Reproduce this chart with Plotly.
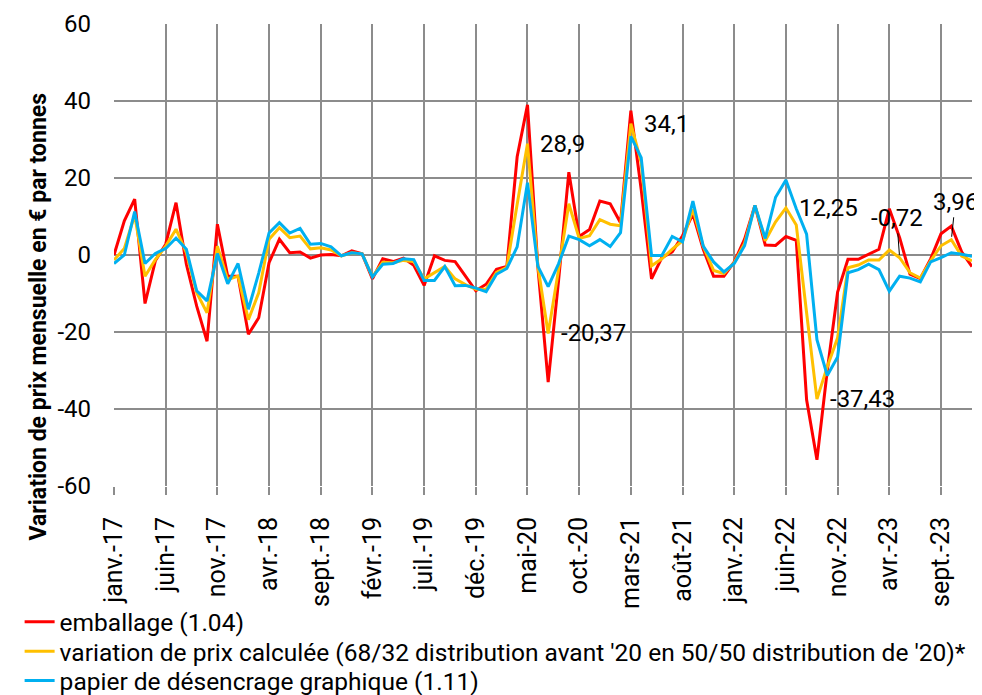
import plotly.graph_objects as go

# Mois (janv. 2017 -> déc. 2023)
mois_abr = ['janv.', 'févr.', 'mars', 'avr.', 'mai', 'juin',
            'juil.', 'août', 'sept.', 'oct.', 'nov.', 'déc.']
annees = ['17', '18', '19', '20', '21', '22', '23']
mois = [f'{m}-{a}' for a in annees for m in mois_abr]

# Variation de prix mensuelle (€/t)
emballage = [
    0.0, 8.9, 14.5, -12.6, -1.5, 2.8, 13.6, -2.4, -13.3, -22.4, 8.0, -5.5,
    -5.5, -20.6, -16.3, -2.0, 4.1, 0.6, 0.8, -0.8, 0.0, 0.1, -0.2, 1.1,
    0.3, -6.2, -1.0, -1.7, -0.8, -2.7, -7.9, -0.2, -1.4, -1.7, -5.5, -9.3,
    -7.6, -3.7, -3.0, 25.5, 39.0, -3.0, -33.0, -6.8, 21.5, 4.8, 6.6, 14.0,
    13.3, 8.4, 37.5, 17.0, -6.2, -0.7, 0.8, 5.0, 10.6, 1.5, -5.5, -5.5,
    -1.8, 4.1, 12.9, 2.6, 2.5, 4.8, 3.8, -37.6, -53.2, -30.0, -9.6, -1.1,
    -1.1, 0.2, 1.5, 12.0, 4.5, -5.0, -6.1, -1.0, 5.5, 7.5, 0.8, -3.0,
]
calculee = [
    -1.3, 1.7, 10.4, -5.5, -1.2, 2.3, 6.7, 0.6, -9.8, -15.0, 2.3, -6.4,
    -5.5, -16.8, -9.8, 4.1, 7.1, 4.5, 4.9, 1.6, 1.9, 1.3, -0.2, 0.6,
    0.3, -5.7, -1.9, -2.0, -1.4, -1.7, -6.2, -4.7, -3.0, -6.2, -7.7, -8.9,
    -8.9, -4.5, -3.2, 13.2, 28.9, -2.8, -20.37, -3.9, 13.3, 4.3, 5.0, 9.2,
    8.0, 7.6, 34.1, 24.0, -2.8, -1.0, 1.5, 3.7, 11.9, 2.3, -4.0, -4.8,
    -2.0, 3.0, 12.9, 3.7, 8.6, 12.25, 7.8, -15.0, -37.43, -29.0, -21.5, -3.3,
    -2.6, -1.3, -1.3, 1.3, -0.72, -4.6, -6.0, -1.5, 2.4, 3.96, -0.3, -1.5,
]
desencrage = [
    -2.2, 0.0, 11.3, -2.2, 0.4, 1.7, 4.4, 1.5, -9.3, -11.9, 0.4, -7.5,
    -2.2, -14.1, -4.7, 5.7, 8.4, 5.7, 6.9, 2.8, 3.0, 2.1, -0.2, 0.6,
    0.3, -5.7, -2.4, -2.2, -1.0, -1.2, -6.6, -6.6, -3.0, -8.0, -7.9, -8.6,
    -9.5, -5.0, -3.5, 2.1, 18.8, -2.9, -8.2, -2.3, 4.9, 4.0, 2.4, 4.0,
    2.2, 5.8, 30.8, 25.3, -0.1, -0.1, 4.8, 3.4, 14.0, 2.3, -1.8, -4.4,
    -2.2, 2.4, 12.9, 4.3, 15.0, 19.5, 12.0, 5.4, -22.0, -31.3, -26.5, -4.6,
    -3.8, -2.4, -3.8, -9.4, -5.5, -6.0, -7.0, -1.8, -0.7, 0.6, 0.2, -0.3,
]

y_ticks = [-60, -40, -20, 0, 20, 40, 60]

# Étiquettes de données sur la série calculée
etiquettes = [40, 42, 50, 65, 68]
etiquettes_fleche = [(76, -3, -40), (81, 4, -38)]

series = [
    ('emballage (1.04)', emballage, '#FF0000'),
    ("variation de prix calculée (68/32 distribution avant '20 en 50/50 distribution de '20)*",
     calculee, '#FFC000'),
    ('papier de désencrage graphique (1.11)', desencrage, '#00B0F0'),
]
# une légende par série pour régler l'interligne
legendes = ['legend', 'legend2', 'legend3']
legende_y = [-0.294, -0.358, -0.421]

fig = go.Figure()
for (nom, vals, couleur), leg in zip(series, legendes):
    fig.add_trace(go.Scatter(x=mois, y=vals, name=nom, mode='lines', legend=leg,
                             line=dict(color=couleur, width=3)))


def fmt(v):
    return f'{v:g}'.replace('.', ',')


annotations = []
for i in etiquettes:
    annotations.append(dict(x=mois[i], y=calculee[i], text=fmt(calculee[i]),
                            showarrow=False, xanchor='left', yanchor='middle',
                            xshift=11, font=dict(size=24, color='black')))
for i, ax, ay in etiquettes_fleche:
    annotations.append(dict(x=mois[i], y=calculee[i], text=fmt(calculee[i]),
                            showarrow=True, arrowhead=0, arrowwidth=1, arrowcolor='black',
                            ax=ax, ay=ay, standoff=3, font=dict(size=24, color='black')))

# titre de l'axe y (décalé vers le bas comme dans l'original)
annotations.append(dict(text='<b>Variation de prix mensuelle en € par tonnes</b>',
                        textangle=-90, xref='paper', yref='paper', x=-0.106, y=0.366,
                        showarrow=False, font=dict(size=23, color='black')))

leg_style = dict(orientation='v', x=-0.11, xanchor='left', yanchor='middle',
                 font=dict(size=24.5, color='black'), itemwidth=30,
                 bgcolor='rgba(0,0,0,0)')

grille = '#8c8c8c'
# la page ajoute 8 px de marge autour du graphique : on les retire ici
fig.update_layout(
    width=974, height=687,
    margin=dict(l=106, r=10, t=16, b=209, autoexpand=False),
    paper_bgcolor='white', plot_bgcolor='white',
    font=dict(family='Roboto, Arial, sans-serif', color='black'),
    showlegend=True,
    legend=dict(leg_style, y=legende_y[0]),
    legend2=dict(leg_style, y=legende_y[1]),
    legend3=dict(leg_style, y=legende_y[2]),
    annotations=annotations,
    xaxis=dict(type='category', range=[0, len(mois) - 1], automargin=False,
               tickvals=mois[::5], ticktext=mois[::5], tickangle=-90,
               tickfont=dict(size=25, color='black'),
               showgrid=True, gridcolor=grille, gridwidth=1.5,
               ticks='outside', ticklen=8, tickcolor=grille, tickwidth=1.5,
               ticklabelstandoff=12, showline=False, zeroline=False),
    yaxis=dict(range=[-60, 60], automargin=False,
               tickvals=y_ticks, ticktext=[str(v) for v in y_ticks],
               tickfont=dict(size=24, color='black'),
               showgrid=True, gridcolor=grille, gridwidth=1.5,
               zeroline=False, showline=False, ticks='', ticklabelstandoff=22),
)

fig.write_html('out.html')
